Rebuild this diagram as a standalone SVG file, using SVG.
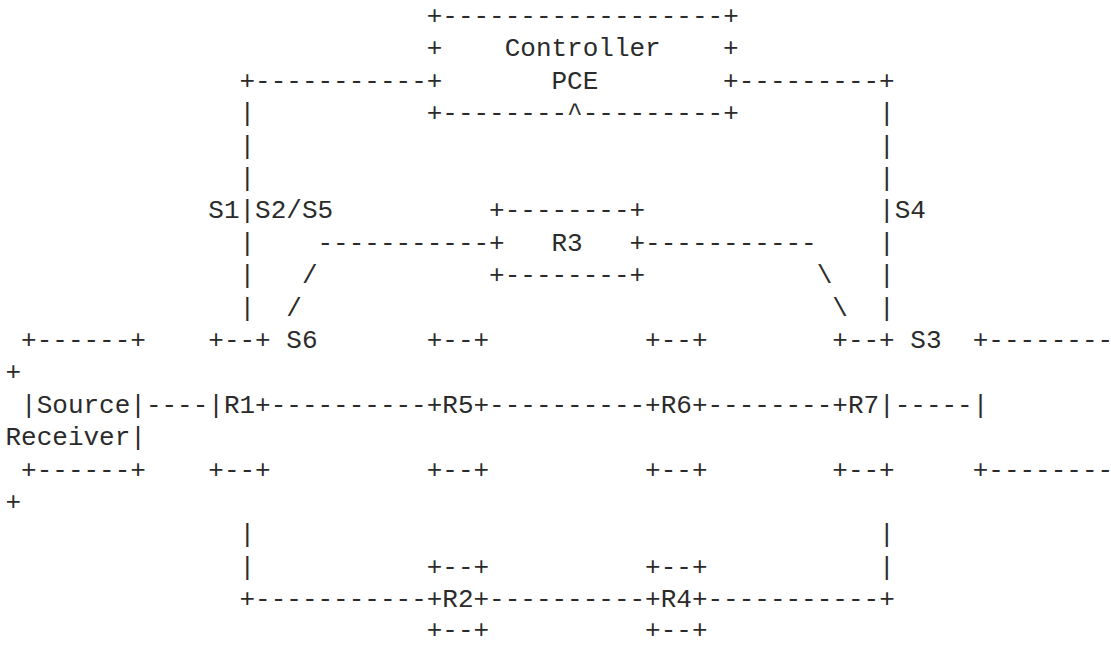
<svg xmlns="http://www.w3.org/2000/svg" width="1111" height="645" viewBox="0 0 1111 645">
<style>
text{font-family:"Liberation Mono","DejaVu Sans Mono",monospace;font-size:26px;fill:#2b2b2b;white-space:pre}
</style>
<rect width="1111" height="645" fill="#ffffff"/>
<g id="controller">
<text x="426.7" y="24">+------------------+</text>
<text x="426.7" y="56.4">+</text>
<text x="504.7" y="56.4">Controller</text>
<text x="723.1" y="56.4">+</text>
<text x="426.7" y="88.8">+</text>
<text x="551.5" y="88.8">PCE</text>
<text x="723.1" y="88.8">+</text>
<text x="426.7" y="121.2">+--------^---------+</text>
</g>
<g id="r3">
<text x="489.1" y="218.4">+--------+</text>
<text x="489.1" y="250.8">+</text>
<text x="551.5" y="250.8">R3</text>
<text x="629.5" y="250.8">+</text>
<text x="489.1" y="283.2">+--------+</text>
</g>
<g id="source">
<text x="21.1" y="348">+------+</text>
<text x="21.1" y="412.8">|Source|</text>
<text x="21.1" y="477.6">+------+</text>
</g>
<g id="r1">
<text x="208.3" y="348">+--+</text>
<text x="208.3" y="412.8">|R1+</text>
<text x="208.3" y="477.6">+--+</text>
</g>
<g id="r5">
<text x="426.7" y="348">+--+</text>
<text x="426.7" y="412.8">+R5+</text>
<text x="426.7" y="477.6">+--+</text>
</g>
<g id="r6">
<text x="645.1" y="348">+--+</text>
<text x="645.1" y="412.8">+R6+</text>
<text x="645.1" y="477.6">+--+</text>
</g>
<g id="r7">
<text x="832.3" y="348">+--+</text>
<text x="832.3" y="412.8">+R7|</text>
<text x="832.3" y="477.6">+--+</text>
</g>
<g id="receiver">
<text x="972.7" y="348">+--------</text>
<text x="5.5" y="380.4">+</text>
<text x="972.7" y="412.8">|</text>
<text x="5.5" y="445.2">Receiver|</text>
<text x="972.7" y="477.6">+--------</text>
<text x="5.5" y="510">+</text>
</g>
<g id="r2">
<text x="426.7" y="574.8">+--+</text>
<text x="426.7" y="607.2">+R2+</text>
<text x="426.7" y="637.5">+--+</text>
</g>
<g id="r4">
<text x="645.1" y="574.8">+--+</text>
<text x="645.1" y="607.2">+R4+</text>
<text x="645.1" y="637.5">+--+</text>
</g>
<g id="labels">
<text x="208.3" y="218.4">S1</text>
<text x="255.1" y="218.4">S2/S5</text>
<text x="894.7" y="218.4">S4</text>
<text x="286.3" y="348">S6</text>
<text x="910.3" y="348">S3</text>
</g>
<g id="connectors">
<text x="239.5" y="88.8">+-----------</text>
<text x="738.7" y="88.8">---------+</text>
<text x="239.5" y="121.2">|</text>
<text x="879.1" y="121.2">|</text>
<text x="239.5" y="153.6">|</text>
<text x="879.1" y="153.6">|</text>
<text x="239.5" y="186">|</text>
<text x="879.1" y="186">|</text>
<text x="239.5" y="218.4">|</text>
<text x="879.1" y="218.4">|</text>
<text x="239.5" y="250.8">|</text>
<text x="317.5" y="250.8">-----------</text>
<text x="645.1" y="250.8">-----------</text>
<text x="879.1" y="250.8">|</text>
<text x="239.5" y="283.2">|</text>
<text x="301.9" y="283.2">/</text>
<text x="816.7" y="283.2">\</text>
<text x="879.1" y="283.2">|</text>
<text x="239.5" y="315.6">|</text>
<text x="286.3" y="315.6">/</text>
<text x="832.3" y="315.6">\</text>
<text x="879.1" y="315.6">|</text>
<text x="145.9" y="412.8">----</text>
<text x="270.7" y="412.8">----------</text>
<text x="489.1" y="412.8">----------</text>
<text x="707.5" y="412.8">--------</text>
<text x="894.7" y="412.8">-----</text>
<text x="239.5" y="542.4">|</text>
<text x="879.1" y="542.4">|</text>
<text x="239.5" y="574.8">|</text>
<text x="879.1" y="574.8">|</text>
<text x="239.5" y="607.2">+-----------</text>
<text x="489.1" y="607.2">----------</text>
<text x="707.5" y="607.2">-----------+</text>
</g>
</svg>
